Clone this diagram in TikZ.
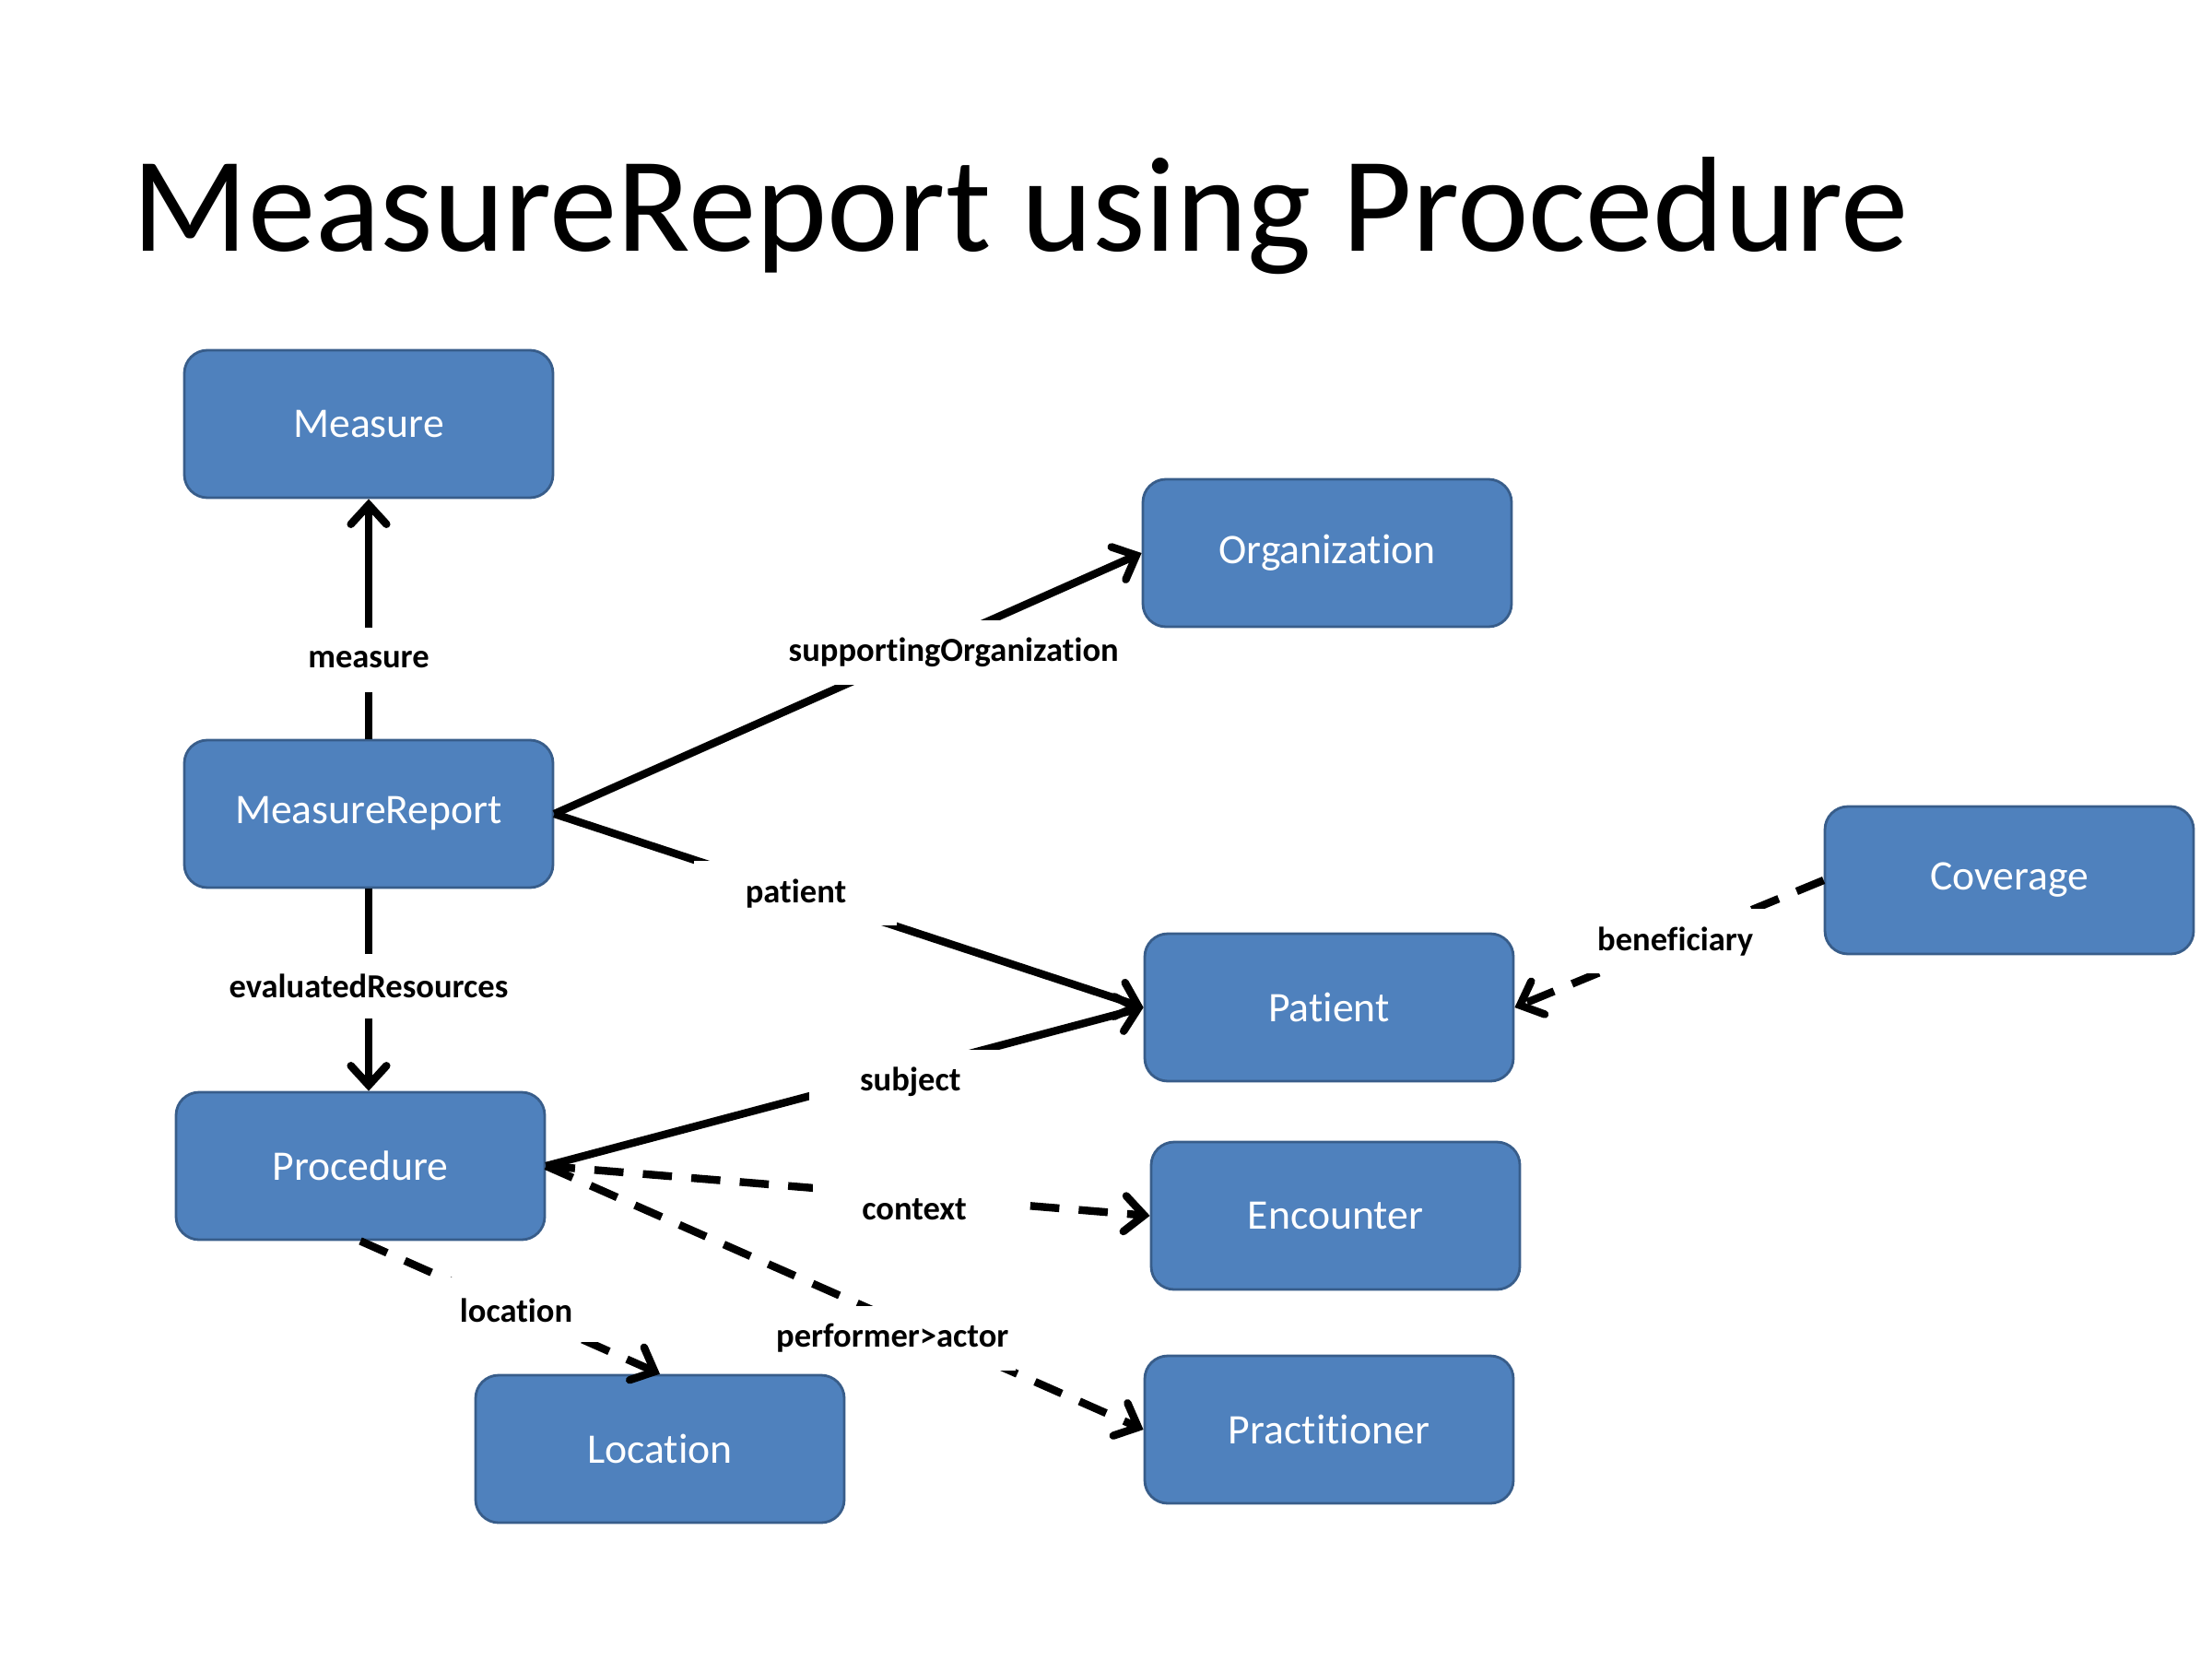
\documentclass[tikz,border=0pt]{standalone}
\usepackage{fontspec}
\setmainfont[Ligatures=NoCommon]{Carlito}
\usepackage{tikz}
\usetikzlibrary{arrows.meta,positioning}
\definecolor{boxblue}{HTML}{4F81BD}
\definecolor{boxline}{HTML}{385D8A}

\begin{document}
\begin{tikzpicture}[>={Straight Barb[length=6pt,width=11pt,line cap=round]},
  box/.style={draw=boxline, line width=0.8pt, fill=boxblue, rounded corners=0.25cm,
    minimum width=4cm, minimum height=1.6cm, text=white, font=\fontsize{13}{15}\selectfont},
  link/.style={->, line width=2.4pt},
  ref/.style={link, dash pattern=on 9pt off 6pt},
  lbl/.style={fill=white, inner sep=2pt, minimum width=2.2cm, minimum height=0.7cm,
    font=\fontsize{10.4}{12}\selectfont\bfseries}]
  \useasboundingbox (0,0) rectangle (24,18);

  % Title
  \node (title) at (11.07,15.66) {\fontsize{41.8}{50}\selectfont MeasureReport using Procedure};

  % Resources
  \foreach \nm/\xy/\txt in {measure/{4.00,13.40}/Measure, mreport/{4.00,9.17}/MeasureReport,
      proc/{3.91,5.35}/Procedure, loc/{7.16,2.28}/Location, org/{14.40,12.00}/Organization,
      patient/{14.42,7.07}/Patient, enc/{14.49,4.81}/Encounter, pract/{14.42,2.49}/Practitioner,
      cov/{21.80,8.45}/Coverage}
    \node[box] (\nm) at (\xy) {\txt};

  % References from MeasureReport
  \draw[link] (mreport.north) -- node[lbl, pos=0.33] {measure} (measure.south);
  \draw[link] (mreport.east) -- node[lbl, pos=0.68, yshift=-5pt] {supportingOrganization} (org.west);
  \draw[link] (mreport.east) -- node[lbl, pos=0.41] {patient} (patient.west);
  \draw[link] (mreport.south) -- node[lbl, pos=0.48] {evaluatedResources} (mreport.south |- proc.north);

  % References from Procedure
  \draw[link] (proc.east) -- node[lbl, pos=0.61, yshift=-4pt] {subject} (patient.west);
  \draw[ref] (proc.east) -- node[lbl, pos=0.61, yshift=-4pt] {context} (enc.west);
  \draw[ref] (proc.east) -- node[lbl, pos=0.58, yshift=-6pt] {performer>actor} (pract.west);
  \draw[ref] (proc.south) -- node[lbl, pos=0.52] {location} (loc.north);

  % Coverage
  \draw[ref] (cov.west) -- node[lbl, pos=0.48] {beneficiary} (patient.east);

\end{tikzpicture}
\end{document}
